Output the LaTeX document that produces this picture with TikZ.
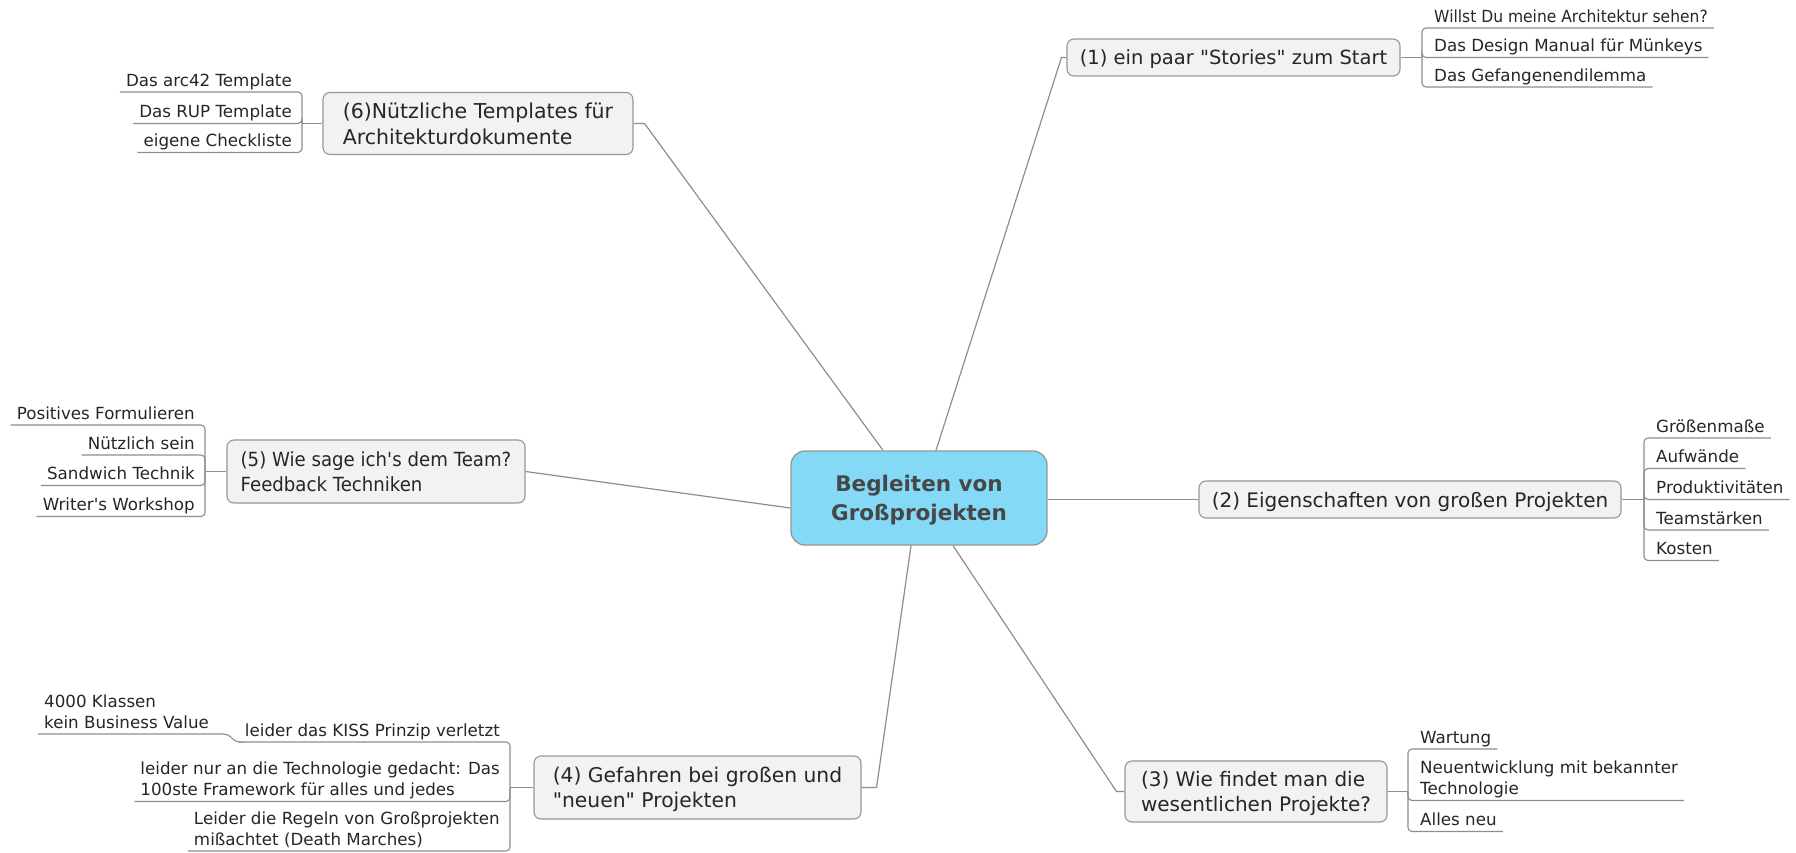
\documentclass[tikz,border=0pt]{standalone}
\usepackage{fontspec}
\setmainfont{DejaVu Sans}
\newfontfamily\narrowfont{DejaVu Sans}[FakeStretch=0.93]
\usetikzlibrary{calc}

\definecolor{hub}{HTML}{84D9F7}
\definecolor{topicfill}{HTML}{F2F2F2}
\definecolor{rim}{HTML}{979797}
\definecolor{wire}{HTML}{8E8E8E}
\definecolor{ink}{HTML}{262626}
\definecolor{hubink}{HTML}{474747}

\tikzset{
  hubnode/.style={draw=rim, line width=1.3pt, fill=hub, rounded corners=14pt,
    minimum width=256pt, minimum height=94pt, align=center, text=hubink,
    inner sep=0pt, text depth=-4pt, font=\fontsize{21.5}{29}\selectfont\bfseries},
  topic/.style={draw=rim, line width=1.1pt, fill=topicfill, rounded corners=7pt,
    align=left, text=ink, inner sep=0pt, text depth=-1pt},
  tsize/.style={font=\fontsize{#1}{25.5}\selectfont},
  leaf/.style={inner xsep=6pt, inner ysep=1pt, text depth=4.5pt, align=left,
    text=ink, font=\fontsize{16.7}{21}\selectfont},
  branch/.style={draw=wire, line width=1.2pt},
  twig/.style={draw=wire, line width=1.1pt, rounded corners=4pt},
}

\begin{document}
\begin{tikzpicture}[x=1pt, y=-1pt]
  % canvas
  \path[fill=white, use as bounding box] (0,0) rectangle (1796,853);

  % central topic and main branches
  \node[hubnode] (C) at (919,498) {Begleiten von\\Großprojekten};
  \node[topic, tsize=19.5, minimum width=333pt, minimum height=37pt] (N1) at (1233.5,57.5)
    {(1) ein paar \textquotedbl Stories\textquotedbl{} zum Start};
  \node[topic, tsize=20, minimum width=422pt, minimum height=37pt] (N2) at (1410,499.5)
    {(2) Eigenschaften von großen Projekten};
  \node[topic, tsize=20, minimum width=262pt, minimum height=61pt] (N3) at (1256,791.5)
    {(3) Wie findet man die\\wesentlichen Projekte?};
  \node[topic, tsize=20.3, minimum width=327pt, minimum height=63pt] (N4) at (697.5,787.5)
    {(4) Gefahren bei großen und\\\textquotedbl neuen\textquotedbl{} Projekten};
  \node[topic, minimum width=298pt, minimum height=63pt,
        font=\narrowfont\fontsize{19.5}{25}\selectfont] (N5) at (376,471.5)
    {(5) Wie sage ich\textquotesingle s dem Team?\\Feedback Techniken};
  \node[topic, tsize=20.5, minimum width=310pt, minimum height=62pt] (N6) at (478,123.5)
    {(6)Nützliche Templates für\\Architekturdokumente};

  \draw[branch] ([xshift=17pt]C.north) -- ([xshift=-5pt]N1.west) -- (N1.west);
  \draw[branch] ([yshift=-1.5pt]C.east) -- (N2.west);
  \draw[branch] ([xshift=34pt]C.south) -- ([xshift=-8pt]N3.west) -- (N3.west);
  \draw[branch] ([xshift=-8pt]C.south) -- ([xshift=15pt]N4.east) -- (N4.east);
  \draw[branch] ([yshift=-10pt]C.west) -- (N5.east);
  \draw[branch] ([xshift=-36pt]C.north) -- ([xshift=11pt]N6.east) -- (N6.east);

  % (1) stories
  \coordinate (J1) at (1422,57.5);
  \node[leaf, anchor=south west, font=\narrowfont\fontsize{16.7}{21}\selectfont] (L11) at (1428,28)
    {Willst Du meine Architektur sehen?};
  \node[leaf, anchor=south west] (L12) at (1428,57.5) {Das Design Manual für Münkeys};
  \node[leaf, anchor=south west] (L13) at (1428,87) {Das Gefangenendilemma};
  \draw[branch] (N1.east) -- (J1);
  \draw[twig] (J1) |- (L11.south east);
  \draw[twig] (J1) |- (L12.south east);
  \draw[twig] (J1) |- (L13.south east);

  % (2) properties
  \coordinate (J2) at (1644,499.5);
  \node[leaf, anchor=south west] (L21) at (1650,438) {Größenmaße};
  \node[leaf, anchor=south west] (L22) at (1650,468.5) {Aufwände};
  \node[leaf, anchor=south west] (L23) at (1650,499.5) {Produktivitäten};
  \node[leaf, anchor=south west] (L24) at (1650,530) {Teamstärken};
  \node[leaf, anchor=south west] (L25) at (1650,560.5) {Kosten};
  \draw[branch] (N2.east) -- (J2);
  \foreach \k in {1,...,5} \draw[twig] (J2) |- (L2\k.south east);

  % (3) finding projects
  \coordinate (J3) at (1408,791.5);
  \node[leaf, anchor=south west] (L31) at (1414,749) {Wartung};
  \node[leaf, anchor=south west] (L32) at (1414,800.5) {Neuentwicklung mit bekannter\\Technologie};
  \node[leaf, anchor=south west] (L33) at (1414,831.5) {Alles neu};
  \draw[branch] (N3.east) -- (J3);
  \foreach \k in {1,2,3} \draw[twig] (J3) |- (L3\k.south east);

  % (4) dangers
  \coordinate (J4) at (510,787.5);
  \node[leaf, anchor=south east] (L41) at (506,742) {leider das KISS Prinzip verletzt};
  \node[leaf, anchor=south east] (L42) at (506,801.5) {leider nur an die Technologie gedacht: Das\\100ste Framework für alles und jedes};
  \node[leaf, anchor=south east] (L43) at (506,851) {Leider die Regeln von Großprojekten\\mißachtet (Death Marches)};
  \node[leaf, anchor=south west] (G41) at (38,734) {4000 Klassen\\kein Business Value};
  \draw[branch] (N4.west) -- (J4);
  \foreach \k in {1,2,3} \draw[twig] (J4) |- (L4\k.south west);
  \draw[twig] (L41.south west) -- ++(-3,0) -- ++(-8,-8) -- (G41.south west);

  % (5) feedback
  \coordinate (J5) at (205,471.5);
  \node[leaf, anchor=south east] (L51) at (201,425) {Positives Formulieren};
  \node[leaf, anchor=south east] (L52) at (201,455) {Nützlich sein};
  \node[leaf, anchor=south east] (L53) at (201,485.5) {Sandwich Technik};
  \node[leaf, anchor=south east] (L54) at (201,516.5) {Writer\textquotesingle s Workshop};
  \draw[branch] (N5.west) -- (J5);
  \foreach \k in {1,...,4} \draw[twig] (J5) |- (L5\k.south west);

  % (6) templates
  \coordinate (J6) at (302,123.5);
  \node[leaf, anchor=south east] (L61) at (298,92) {Das arc42 Template};
  \node[leaf, anchor=south east] (L62) at (298,123.5) {Das RUP Template};
  \node[leaf, anchor=south east] (L63) at (298,152.5) {eigene Checkliste};
  \draw[branch] (N6.west) -- (J6);
  \foreach \k in {1,2,3} \draw[twig] (J6) |- (L6\k.south west);
\end{tikzpicture}
\end{document}
